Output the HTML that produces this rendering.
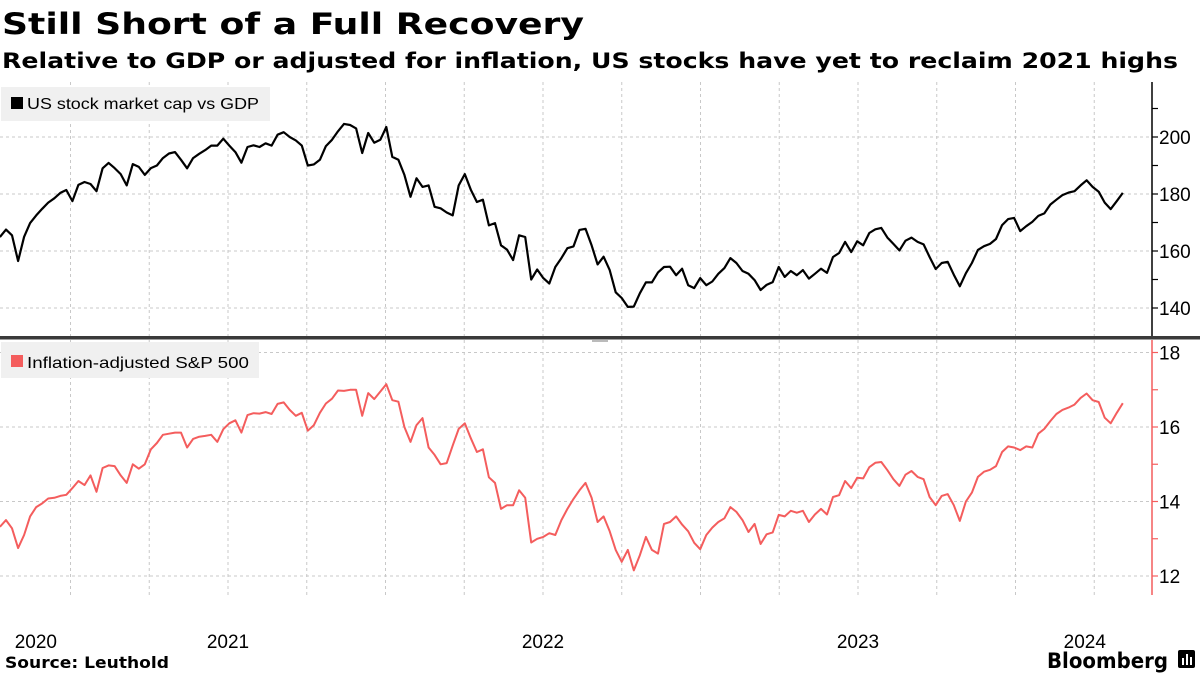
<!DOCTYPE html>
<html><head><meta charset="utf-8"><style>
html,body{margin:0;padding:0;background:#fff;}
svg{display:block;font-family:"Liberation Sans","DejaVu Sans",sans-serif;}
</style></head><body>
<svg id="chart" width="1200" height="675" viewBox="0 0 1200 675" xmlns="http://www.w3.org/2000/svg">
<text x="2" y="34" font-family="DejaVu Sans" font-weight="bold" font-size="29" textLength="582" lengthAdjust="spacingAndGlyphs">Still Short of a Full Recovery</text>
<text x="2" y="68" font-family="DejaVu Sans" font-weight="bold" font-size="21" textLength="1176" lengthAdjust="spacingAndGlyphs">Relative to GDP or adjusted for inflation, US stocks have yet to reclaim 2021 highs</text>
<g id="grid"></g>
<rect x="1" y="87" width="269" height="34" fill="#f0f0f0"/>
<rect x="11" y="97" width="12" height="12" fill="#000"/>
<text x="27" y="109" font-size="16" fill="#000" textLength="232" lengthAdjust="spacingAndGlyphs">US stock market cap vs GDP</text>
<rect x="1" y="342" width="258" height="36" fill="#f0f0f0"/>
<rect x="11" y="355" width="12" height="12" fill="#f45d5d"/>
<text x="27" y="368" font-size="16" fill="#000" textLength="222" lengthAdjust="spacingAndGlyphs">Inflation-adjusted S&amp;P 500</text>
<g id="series"></g>
<g id="axes"></g>
<rect x="0" y="336" width="1200" height="3.5" fill="#3a3a3a"/>
<rect x="592" y="340" width="16" height="2" fill="#bbb"/>
<text x="5" y="668" font-family="DejaVu Sans" font-weight="bold" font-size="16" textLength="164" lengthAdjust="spacingAndGlyphs">Source: Leuthold</text>
<text x="1047" y="668" font-family="DejaVu Sans" font-weight="bold" font-size="21" textLength="121" lengthAdjust="spacingAndGlyphs">Bloomberg</text>
<g><rect x="1178" y="650" width="17" height="18" rx="2" fill="#000"/><rect x="1182" y="658" width="2" height="7" fill="#fff"/><rect x="1186" y="654" width="2" height="11" fill="#fff"/><rect x="1190" y="657" width="2" height="8" fill="#fff"/></g>
</svg>
<script>
const startYear = 2020.276;
const weekStep = 7/365.25;
const capGdp = [164.9,167.5,165.5,156.5,165,169.8,172.5,174.8,177,178.5,180.4,181.4,177.5,183.2,184.2,183.5,181,189,190.9,189.1,187,183,190.5,189.5,186.7,189.1,190,192.6,194.2,194.7,192,189,192.6,194.1,195.4,197,197,199.4,197,194.7,191,196.5,197.1,196.5,197.8,197,200.8,201.7,200,198.8,197,190,190.4,192,196.8,199,202,204.6,204.2,203,194.4,201.4,198,199,203.5,193,192,186.7,179,185.5,182.5,183,175.5,175,173.5,172.5,183,187,181.5,177.2,178,169,169.8,162,160.5,156.8,165.5,164.9,150,153.5,150.5,148.6,154.4,157.5,161,161.6,167.4,167.8,162,155.3,158,153.3,145.5,143.5,140.4,140.5,145.2,149,149,152.5,154.4,154.5,151.5,153.8,148,147,150.5,148,149.3,152,154,157.5,155.8,153,152,149.8,146.3,148.1,149.1,154.4,150.9,153,151.5,153.3,150.3,152,153.8,152.3,157.9,159.3,163.2,159.6,163.4,162,166.3,167.6,168.1,164.7,162.5,160.2,163.6,164.7,163.2,162.3,157.9,153.7,155.8,156.2,151.7,147.6,152.2,155.8,160.4,161.7,162.5,164.2,169.1,171.2,171.6,167,168.7,170.2,172.3,173.2,176.3,178,179.6,180.5,181,183,184.8,182.5,180.8,177,174.7,177.5,180.4];
const realSpx = [13.32,13.5,13.28,12.75,13.1,13.6,13.85,13.95,14.08,14.1,14.15,14.18,14.36,14.55,14.44,14.7,14.26,14.9,14.97,14.95,14.7,14.5,15.0,14.88,15.0,15.4,15.57,15.79,15.82,15.85,15.85,15.45,15.68,15.74,15.76,15.79,15.6,15.94,16.1,16.18,15.85,16.32,16.37,16.36,16.4,16.35,16.62,16.66,16.46,16.3,16.38,15.9,16.05,16.38,16.63,16.76,16.98,16.97,17.0,17.0,16.3,16.91,16.75,16.95,17.15,16.72,16.68,16.0,15.6,16.05,16.24,15.45,15.25,15.0,15.03,15.5,15.95,16.1,15.7,15.33,15.4,14.65,14.5,13.8,13.9,13.9,14.3,14.1,12.9,13.0,13.05,13.15,13.1,13.5,13.8,14.07,14.3,14.5,14.1,13.45,13.6,13.2,12.7,12.38,12.7,12.15,12.56,13.05,12.7,12.6,13.4,13.45,13.6,13.38,13.2,12.89,12.72,13.1,13.3,13.45,13.55,13.85,13.72,13.5,13.18,13.4,12.86,13.12,13.17,13.64,13.6,13.75,13.7,13.75,13.45,13.65,13.8,13.65,14.12,14.17,14.55,14.36,14.64,14.62,14.92,15.04,15.06,14.84,14.6,14.42,14.72,14.82,14.66,14.6,14.12,13.9,14.15,14.2,13.9,13.48,14.0,14.24,14.66,14.8,14.85,14.95,15.33,15.48,15.45,15.38,15.48,15.45,15.82,15.95,16.16,16.35,16.46,16.52,16.6,16.78,16.9,16.72,16.67,16.25,16.1,16.38,16.64];
const topTicks = [140,160,180,200];
const topMinor = [150,170,190,210];
const botTicks = [12,14,16,18];
const botMinor = [13,15,17];
const yearLabels = ["2020","2021","2022","2023","2024"];
const yearLabelPos = [2020.39,2021,2022,2023,2023.72];

const NS="http://www.w3.org/2000/svg";
const xAt = t => 228 + (t-2021)*315;
const yTop = v => 137 + (200-v)*2.85;
const yBot = v => 427 + (16-v)*37.25;
const AX = 1152;
function mk(tag, attrs, parent){const e=document.createElementNS(NS,tag);for(const k in attrs)e.setAttribute(k,attrs[k]);parent.appendChild(e);return e;}
const grid=document.getElementById('grid'), series=document.getElementById('series'), axes=document.getElementById('axes');

for(let q=2020.25;q<2024.3;q+=0.25){
  const x=xAt(q); if(x<0||x>AX) continue;
  const g=mk('line',{x1:x,x2:x,y1:82,y2:597,stroke:'#c8c8c8','stroke-width':1,'stroke-dasharray':'3,3'},grid);
  
  
}
topTicks.forEach(v=>{
  const g=mk('line',{x1:0,x2:AX,y1:yTop(v),y2:yTop(v),stroke:'#c8c8c8','stroke-width':1,'stroke-dasharray':'3,3'},grid);
  
  
});
botTicks.forEach(v=>{
  const g=mk('line',{x1:0,x2:AX,y1:yBot(v),y2:yBot(v),stroke:'#c8c8c8','stroke-width':1,'stroke-dasharray':'3,3'},grid);
  
  
});

function path(vals, yf){return vals.map((v,i)=>(i?'L':'M')+xAt(startYear+i*weekStep).toFixed(1)+','+yf(v).toFixed(1)).join('');}
const p1=mk('path',{d:path(capGdp,yTop),fill:'none',stroke:'#000','stroke-width':2.2,'stroke-linejoin':'round'},series);


const p2=mk('path',{d:path(realSpx,yBot),fill:'none',stroke:'#f45d5d','stroke-width':2,'stroke-linejoin':'round'},series);



const a1=mk('line',{x1:AX,x2:AX,y1:82,y2:337,stroke:'#000','stroke-width':1.5},axes);


topTicks.concat(topMinor).forEach(v=>{
  const t=mk('line',{x1:AX,x2:AX+6,y1:yTop(v),y2:yTop(v),stroke:'#000','stroke-width':1.2},axes);
  
  
});
topTicks.forEach(v=>{
  const t=mk('text',{x:AX+7,y:yTop(v)+7,'font-size':19,fill:'#000'},axes); t.textContent=v;
  
  
});
const a2=mk('line',{x1:AX,x2:AX,y1:340,y2:595,stroke:'#f45d5d','stroke-width':1.5},axes);


botTicks.concat(botMinor).forEach(v=>{
  const t=mk('line',{x1:AX,x2:AX+6,y1:yBot(v),y2:yBot(v),stroke:'#f45d5d','stroke-width':1.2},axes);
  
  
});
botTicks.forEach(v=>{
  const t=mk('text',{x:AX+7,y:yBot(v)+7,'font-size':19,fill:'#000'},axes); t.textContent=v;
  
  
});
yearLabels.forEach((s,i)=>{
  const t=mk('text',{x:xAt(yearLabelPos[i]),y:648,'font-size':19,fill:'#000','text-anchor':'middle'},axes); t.textContent=s;
  
  
});
</script>
</body></html>
